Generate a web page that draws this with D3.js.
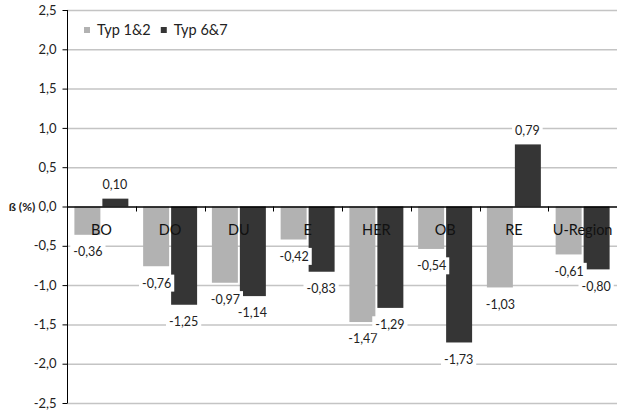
<!DOCTYPE html>
<html><head><meta charset="utf-8">
<script src="https://cdn.jsdelivr.net/npm/d3@7"></script>
<style>
html,body{margin:0;padding:0;background:#fff;}
svg{display:block;font-family:Lato,"Open Sans",sans-serif;}
</style></head>
<body>
<svg id="chart" width="617" height="411"></svg>
<script>
const categories = ["BO","DO","DU","E","HER","OB","RE","U-Region"];
const seriesNames = ["Typ 1&2","Typ 6&7"];
const typ12 = [-0.36,-0.76,-0.97,-0.42,-1.47,-0.54,-1.03,-0.61];
const typ67 = [0.10,-1.25,-1.14,-0.83,-1.29,-1.73,0.79,-0.80];
const yTicks = [2.5,2.0,1.5,1.0,0.5,0.0,-0.5,-1.0,-1.5,-2.0,-2.5];
const yTitle = "ß (%)";
const colors = ["#b2b2b2","#353535"];

(function(){
const svg = d3.select("#chart");
const fmt = v => d3.format(".2f")(v).replace(".", ",").replace("−","-");
const fmtTick = v => d3.format(".1f")(v).replace(".", ",").replace("−","-");

const mLeft = 67, mRight = 617, mTop = 10, mBottom = 403;
const y = d3.scaleLinear().domain([-2.5,2.5]).range([mBottom, mTop]);
const x0 = d3.scaleBand().domain(categories).range([mLeft, mRight]).padding(0);
const groupW = x0.bandwidth()*0.785;
const x1 = d3.scaleBand().domain(seriesNames).range([0, groupW]).padding(0);
const off = (x0.bandwidth()-groupW)/2;

// gridlines
svg.append("g").selectAll("line").data(yTicks.filter(d=>d!==0)).join("line")
  .attr("x1", mLeft).attr("x2", mRight)
  .attr("y1", d=>y(d)+0.5).attr("y2", d=>y(d)+0.5)
  .attr("stroke","#c4c4c4").attr("stroke-width",1.5);

// y axis
const yAxis = d3.axisLeft(y).tickValues(yTicks).tickFormat(fmtTick).tickSize(5).tickPadding(6);
const ya = svg.append("g").attr("transform",`translate(${mLeft+0.5},0)`).call(yAxis);
ya.select(".domain").attr("stroke","#000").attr("d",`M-0,${mTop}V${mBottom}`);
ya.selectAll(".tick line").attr("stroke","#000");
ya.selectAll(".tick text").attr("font-size",13).attr("fill","#222").attr("font-family","Lato,sans-serif");

svg.append("text").attr("x",22).attr("y",y(0)).attr("dy","0.35em")
  .attr("text-anchor","middle").attr("font-weight","bold").attr("font-size",12)
  .attr("fill","#222").text(yTitle);

const data = categories.map((c,i)=>({cat:c, vals:[typ12[i], typ67[i]]}));
const bars = [];
data.forEach(d=>{ d.vals.forEach((v,j)=>bars.push({cat:d.cat, s:seriesNames[j], j, v})); });

// bars
svg.append("g").selectAll("rect").data(bars).join("rect")
  .attr("x", d=>x0(d.cat)+off+x1(d.s)+(d.j===1?1:0))
  .attr("width", x1.bandwidth()-1)
  .attr("y", d=>Math.min(y(d.v), y(0)))
  .attr("height", d=>Math.abs(y(d.v)-y(0)))
  .attr("fill", d=>colors[d.j]);

// zero axis line + category ticks
svg.append("line").attr("x1",mLeft).attr("x2",mRight).attr("y1",y(0)+0.5).attr("y2",y(0)+0.5)
  .attr("stroke","#000").attr("stroke-width",1.5);
svg.append("g").selectAll("line").data(categories.slice(1)).join("line")
  .attr("x1",d=>Math.round(x0(d))+0.5).attr("x2",d=>Math.round(x0(d))+0.5)
  .attr("y1",y(0)).attr("y2",y(0)+5).attr("stroke","#000");

// category labels
svg.append("g").selectAll("text").data(categories).join("text")
  .attr("x", d=>x0(d)+x0.bandwidth()/2).attr("y", y(0)+23)
  .attr("dy","0.35em").attr("text-anchor","middle").attr("font-size",14.5)
  .attr("fill","#111").text(d=>d);

// value labels with white boxes
const lg = svg.append("g");
bars.forEach(d=>{
  const cx = x0(d.cat)+off+x1(d.s)+x1.bandwidth()/2;
  const cy = d.v>=0 ? y(d.v)-14 : y(d.v)+17;
  const g = lg.append("g");
  const t = g.append("text").attr("x",cx).attr("y",cy).attr("dy","0.35em")
    .attr("text-anchor","middle").attr("font-size",12.5).attr("fill","#222").text(fmt(d.v));
  const bb = t.node().getBBox();
  g.insert("rect","text").attr("x",bb.x-3).attr("y",bb.y-1).attr("width",bb.width+6).attr("height",bb.height+2).attr("fill","#fff");
});

// legend
const leg = svg.append("g").attr("transform","translate(84,27)");
let lx = 0;
seriesNames.forEach((s,i)=>{
  const g = leg.append("g").attr("transform",`translate(${lx},0)`);
  g.append("rect").attr("width",6).attr("height",6).attr("fill",colors[i]);
  const t = g.append("text").attr("x",13).attr("y",3).attr("dy","0.35em").attr("font-size",14.5).attr("fill","#222").text(s);
  lx += 13 + t.node().getComputedTextLength() + 10;
});
})();
</script>
</body></html>
